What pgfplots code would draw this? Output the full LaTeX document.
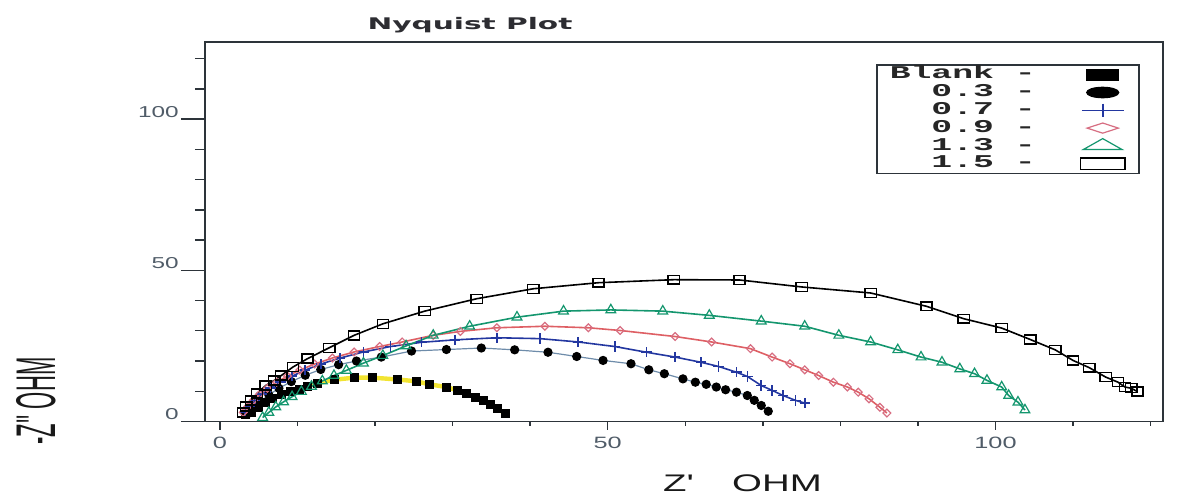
\documentclass[border=0pt]{standalone}
\usepackage{pgfplots}
\pgfplotsset{compat=1.18}
\usepackage{graphicx}
\usepackage{fontspec}
\setmainfont{Liberation Sans}
\newfontfamily\legfont{Liberation Mono}
\newfontfamily\titlefont{DejaVu Sans}
\definecolor{frame}{RGB}{45,52,58}
\definecolor{ticklab}{RGB}{80,92,104}
\definecolor{cblank}{RGB}{242,228,50}
\definecolor{cline3}{RGB}{110,140,170}
\definecolor{cblue}{RGB}{35,55,160}
\definecolor{cred}{RGB}{222,95,100}
\definecolor{credm}{RGB}{215,110,130}
\definecolor{cgreen}{RGB}{20,150,110}
\definecolor{titlec}{RGB}{45,45,50}
\begin{document}
\begin{tikzpicture}
\useasboundingbox (-102.5pt,-36.75pt) rectangle (487.5pt,210.75pt);
% x ticks (shorter ticks than y axis)
\begin{axis}[
  scale only axis, width=479pt, height=189.9pt,
  xmin=-1.93, xmax=121.6, ymin=0, ymax=125.6,
  axis line style={frame, line width=0.8pt},
  tick style={frame, line width=0.7pt},
  tick align=outside, xtick pos=bottom,
  ytick=\empty,
  xtick={0,50,100},
  xticklabels={\scalebox{1.54}[1]{0},\scalebox{1.54}[1]{50},\scalebox{1.54}[1]{100}},
  minor xtick={10,20,30,40,60,70,80,90,110,120},
  major tick length=4pt, minor tick length=2pt,
  xticklabel style={font=\fontsize{8.2}{9}\selectfont, text=ticklab, anchor=north, inner sep=0pt, yshift=-3.5pt},
]
\end{axis}
\begin{axis}[
  scale only axis, width=479pt, height=189.9pt,
  xmin=-1.93, xmax=121.6, ymin=0, ymax=125.6,
  clip=false,
  axis line style={frame, line width=0.8pt},
  tick style={frame, line width=0.7pt},
  tick align=outside, ytick pos=left,
  xtick=\empty,
  ytick={0,50,100},
  yticklabels={\scalebox{1.54}[1]{0},\scalebox{1.54}[1]{50},\scalebox{1.54}[1]{100}},
  minor ytick={10,20,30,40,60,70,80,90,110,120},
  major tick length=12pt, minor tick length=5pt,
  yticklabel style={font=\fontsize{7.9}{9}\selectfont, text=ticklab, anchor=base east, inner sep=1pt, yshift=0.8pt},
  title={\scalebox{1.85}[1]{Nyquist Plot}},
  title style={font=\titlefont\bfseries\fontsize{8}{10}\selectfont, text=titlec, at={(axis description cs:0.2766,1)}, anchor=base, yshift=0pt, inner sep=0pt},
  xlabel={\scalebox{1.6}[1]{Z\textquotesingle\quad OHM}},
  xlabel style={font=\fontsize{12}{14}\selectfont, text=black!90, at={(axis description cs:0.561,-0.1856)}, anchor=base, inner sep=0pt},
  ylabel={\scalebox{0.92}[2.33]{-Z\textquotesingle\textquotesingle\ OHM}},
  ylabel style={font=\fontsize{12}{14}\selectfont, text=black!90, at={(axis description cs:-0.1764,0.054)}, anchor=center, inner sep=0pt},
  legend style={at={(axis description cs:0.7004,0.9413)}, anchor=north west,
    draw=frame, line width=0.8pt, inner xsep=6pt, inner ysep=0.5pt,
    font=\legfont\bfseries\fontsize{9}{10}\selectfont, text=black!85,
    nodes={inner sep=0.5pt, text height=6.0pt, text depth=1.9pt},
    row sep=0pt, column sep=0pt},
  legend cell align=right,
  legend plot pos=right,
  legend image code/.code={%
    \path[draw=none,fill=none] (0pt,-3pt) rectangle (45pt,3pt);
    \draw[overlay,mark repeat=1,mark phase=1,#1, every mark/.append style={xscale=4.0,yscale=1.3}] plot coordinates {(33pt,0pt)};},
]
% Blank
\addplot[cblank, line width=2.2pt, mark=square*, mark size=2pt, mark options={draw=black, fill=black, line width=0.3pt}] coordinates {
(3.3,2.3)(4.0,3.1)(5.0,4.7)(5.9,6.4)(6.8,7.8)(7.9,8.9)(9.1,10.0)(10.2,10.8)(11.3,11.6)(12.6,12.7)(14.7,13.8)(17.3,14.5)(19.7,14.5)(22.9,13.9)(25.3,13.3)(27.0,12.3)(29.2,11.4)(30.6,10.3)(31.8,9.2)(32.9,8.1)(33.9,7.0)(34.8,5.6)(35.7,4.3)(36.8,2.7)
};
\addlegendentry{\scalebox{1.93}[1]{Blank -}}
% 0.3
\addplot[cline3, line width=0.6pt, mark=*, mark size=2pt, mark options={draw=black, fill=black}] coordinates {
(3.5,2.5)(4.3,4.5)(5.2,6.6)(6.3,8.8)(7.6,11.0)(9.2,13.2)(11.0,15.3)(13.0,17.2)(15.3,18.8)(17.6,20.0)(20.8,21.3)(24.7,23.3)(29.2,23.8)(33.7,24.3)(38.0,23.7)(42.3,22.9)(46.0,21.5)(49.4,20.2)(53.0,19.1)(55.3,17.1)(57.3,15.8)(59.7,14.1)(61.3,13.0)(62.7,12.3)(64.0,11.4)(65.2,10.5)(66.6,9.7)(68.0,8.6)(68.9,7.0)(69.8,5.3)(70.7,3.4)
};
\addlegendentry{\scalebox{1.93}[1]{0.3 -}}
% 0.7
\addplot[cblue, line width=0.8pt, mark=+, mark size=2.6pt, mark options={line width=0.8pt}] coordinates {
(3.2,3.0)(3.8,5.0)(4.5,7.0)(5.4,9.0)(6.5,11.0)(7.8,13.0)(9.3,15.0)(11.0,17.0)(13.0,19.0)(15.5,21.0)(18.5,23.0)(22.0,24.8)(26.0,26.2)(30.3,27.0)(35.7,27.7)(41.3,27.4)(46.2,26.3)(50.9,24.8)(55.0,22.9)(58.7,21.3)(62.0,19.6)(64.3,18.2)(66.6,16.3)(68.0,14.9)(69.8,11.9)(71.2,10.3)(72.6,8.6)(74.2,7.0)(75.4,6.1)
};
\addlegendentry{\scalebox{1.93}[1]{0.7 -}}
% 0.9
\addplot[cred, line width=0.8pt, mark=diamond, mark size=2.6pt, mark options={draw=credm, fill=white, yscale=0.75, line width=0.6pt}] coordinates {
(3.0,3.0)(3.6,5.0)(4.3,7.0)(5.1,9.0)(6.1,11.0)(7.3,13.0)(8.7,15.0)(10.3,17.0)(12.2,19.0)(14.5,21.0)(17.3,23.0)(20.6,24.8)(23.5,26.3)(27.5,28.5)(31.0,29.8)(35.7,31.0)(41.9,31.5)(47.5,31.0)(51.6,30.1)(58.7,28.1)(63.4,26.3)(68.4,24.1)(71.2,21.3)(73.5,19.1)(75.4,17.1)(77.2,15.2)(79.1,13.0)(80.9,11.4)(82.3,9.7)(83.7,7.5)(85.1,4.7)(86.0,2.8)
};
\addlegendentry{\scalebox{1.93}[1]{0.9 -}}
% 1.3
\addplot[cgreen, line width=0.8pt, mark=triangle, mark size=2.8pt, mark options={fill=white, line width=0.6pt}] coordinates {
(5.5,1.3)(6.3,3.0)(7.2,4.8)(8.2,6.5)(9.3,8.2)(10.5,9.9)(11.8,11.6)(13.2,13.4)(14.7,15.2)(16.3,16.9)(18.5,19.3)(21.0,21.8)(24.0,25.0)(27.5,28.5)(32.2,31.5)(38.3,34.5)(44.3,36.5)(50.4,36.9)(57.1,36.5)(63.1,35.1)(69.8,33.2)(75.4,31.5)(79.8,28.5)(83.9,26.3)(87.4,23.7)(90.4,21.3)(93.1,19.6)(95.4,17.4)(97.3,15.8)(98.9,13.6)(100.8,11.4)(101.7,8.6)(102.9,6.4)(103.8,3.8)
};
\addlegendentry{\scalebox{1.93}[1]{1.3 -}}
% 1.5
\addplot[black, line width=0.8pt, mark=square, mark size=2.8pt, mark options={fill=white, yscale=0.8, line width=0.7pt}] coordinates {
(3.0,3.0)(3.4,5.0)(4.0,7.0)(4.8,9.3)(5.9,11.9)(7.0,13.6)(7.9,15.2)(9.4,18.0)(11.3,20.8)(14.1,24.4)(17.3,28.5)(21.0,32.3)(26.4,36.5)(33.1,40.6)(40.4,43.9)(48.8,45.9)(58.5,46.9)(67.0,46.8)(75.0,44.5)(83.9,42.5)(91.1,38.1)(95.9,34.0)(100.8,30.9)(104.5,27.1)(107.7,23.7)(110.0,20.2)(112.1,17.8)(114.2,14.7)(115.8,13.0)(116.7,11.4)(117.5,11.0)(118.3,9.9)
};
\addlegendentry{\scalebox{1.93}[1]{1.5 -}}
\end{axis}
\end{tikzpicture}
\end{document}
